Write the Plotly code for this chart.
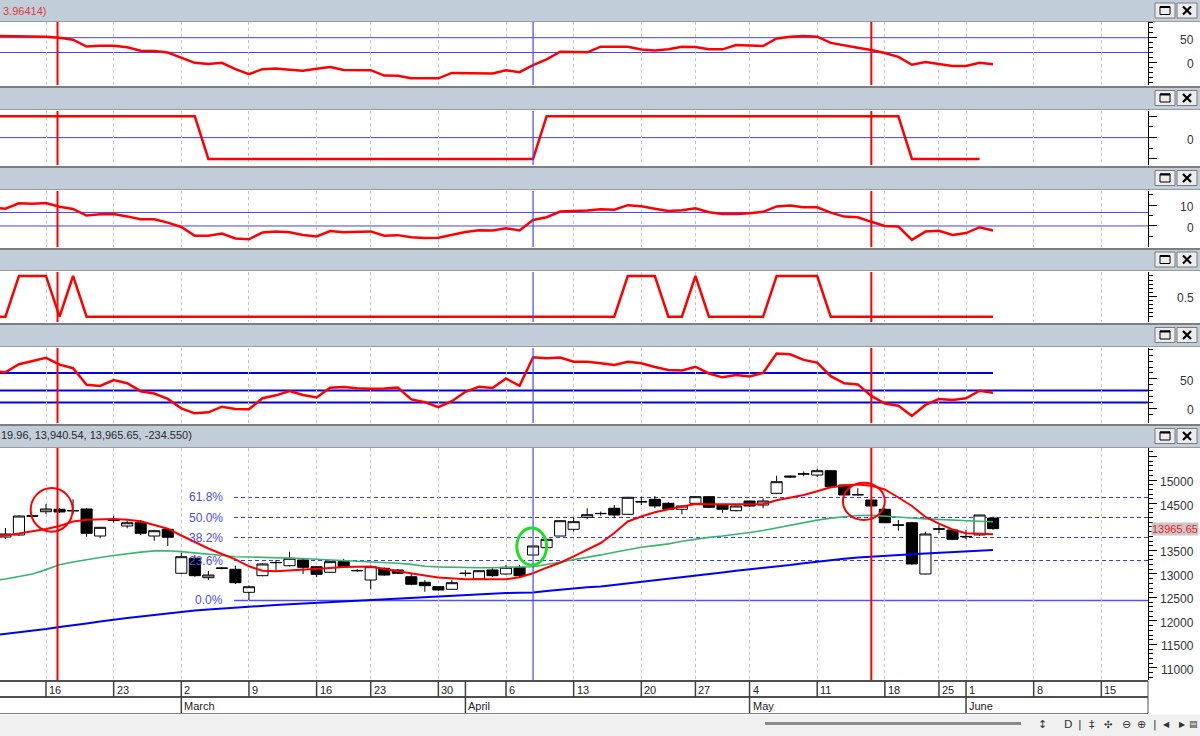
import plotly.graph_objects as go

W, H = 1200, 736
PLOT_RIGHT = 1148
FONT = "Liberation Sans, Arial, sans-serif"

# ---------------- data ----------------
candle_days = list(range(-3, 71))
line_days = list(range(-4, 71))
ind2_days = list(range(-4, 70))

opens = [13787, 13830, 14240, 14325, 14377, 14350, 14383, 13808, 14150, 14021, 14091, 13808, 13951,
         13015, 13334, 12921, 13130, 13100, 12610, 12964, 13240, 13176, 13298, 13155, 13036, 13262,
         13075, 12872, 13121, 13085, 12942, 12823, 12730, 12674, 13020, 12893, 13085, 13000, 13142,
         13404, 13560, 13808, 13951, 14206, 14290, 14398, 14270, 14540, 14589, 14504, 14377, 14504,
         14645, 14468, 14347, 14553, 14468, 14717, 15060, 15128, 15106, 15198, 14894, 14681, 14574,
         14377, 14045, 14091, 13000, 13960, 13936, 13800, 13830, 14190]
highs = [13979, 14250, 14260, 14489, 14400, 14589, 14410, 14000, 14240, 14134, 14149, 13940, 13970,
         13453, 13400, 13064, 13150, 13176, 12760, 13230, 13300, 13474, 13320, 13170, 13290, 13320,
         13100, 13180, 13140, 13100, 13000, 12870, 12740, 12870, 13080, 13080, 13140, 13191, 13191,
         13600, 13750, 14140, 14200, 14398, 14330, 14468, 14640, 14645, 14660, 14530, 14460, 14660,
         14660, 14480, 14460, 14560, 14610, 15092, 15100, 15180, 15240, 15210, 14900, 14823, 14580,
         14400, 14149, 14110, 13900, 14050, 13950, 13940, 14260, 14219.96]
lows = [13745, 13810, 14210, 14276, 14300, 14276, 13794, 13760, 14090, 13972, 13830, 13708, 13596,
        13000, 12940, 12872, 13100, 12787, 12446, 12950, 13060, 13160, 13000, 12930, 13020, 13140,
        13050, 12674, 12960, 13000, 12760, 12623, 12640, 12660, 12950, 12880, 12940, 12990, 12930,
        13390, 13550, 13800, 13900, 14164, 14240, 14185, 14260, 14468, 14400, 14360, 14270, 14490,
        14400, 14305, 14330, 14430, 14400, 14700, 15040, 15080, 15060, 14840, 14670, 14670, 14430,
        14080, 13921, 13200, 12990, 13870, 13720, 13740, 13810, 13940.54]
closes = [13851, 14234, 14230, 14383, 14319, 14345, 13866, 13993, 14140, 14091, 13866, 13921, 13781,
          13368, 12964, 12978, 13120, 12815, 12729, 13213, 13245, 13334, 13142, 12993, 13262, 13155,
          13070, 13155, 12978, 13015, 12781, 12751, 12660, 12815, 13010, 13070, 12964, 13142, 12964,
          13596, 13738, 14134, 14113, 14262, 14285, 14255, 14632, 14535, 14447, 14377, 14447, 14645,
          14419, 14377, 14447, 14447, 14553, 14964, 15080, 15130, 15198, 14857, 14681, 14690, 14447,
          14091, 14040, 13213, 13851, 13955, 13738, 13795, 14255, 13965.65]

ma_fast = [13780, 13813, 13862, 13910, 13957, 14021, 14117, 14153, 14164, 14168, 14155, 14121, 14042,
           13964, 13819, 13672, 13542, 13425, 13312, 13164, 13070, 13059, 13074, 13089, 13110, 13129,
           13151, 13164, 13161, 13106, 13055, 13015, 12968, 12927, 12900, 12887, 12887, 12887, 12887,
           12932, 13015, 13134, 13240, 13374, 13515, 13659, 13872, 14117, 14223, 14313, 14379, 14442,
           14489, 14485, 14481, 14477, 14472, 14483, 14568, 14628, 14681, 14762, 14845, 14883, 14906,
           14879, 14798, 14628, 14447, 14213, 14070, 13947, 13866, 13855, 13844]
ma_mid = [12860, 12893, 12946, 12998, 13093, 13198, 13255, 13308, 13351, 13395, 13434, 13466, 13491,
          13496, 13476, 13451, 13423, 13393, 13368, 13361, 13357, 13351, 13340, 13330, 13315, 13302,
          13287, 13272, 13257, 13244, 13230, 13204, 13166, 13151, 13142, 13134, 13134, 13134, 13138,
          13147, 13155, 13202, 13249, 13308, 13357, 13406, 13464, 13523, 13568, 13604, 13640, 13696,
          13744, 13779, 13808, 13838, 13883, 13925, 13981, 14042, 14102, 14147, 14189, 14221, 14245,
          14251, 14236, 14221, 14191, 14172, 14157, 14147, 14134, 14123, 14113]
ma_slow = [11690, 11723, 11765, 11797, 11829, 11872, 11904, 11946, 11989, 12031, 12063, 12095, 12127,
           12170, 12202, 12223, 12244, 12266, 12287, 12304, 12323, 12340, 12357, 12372, 12387, 12397,
           12414, 12429, 12446, 12463, 12480, 12495, 12510, 12525, 12542, 12557, 12570, 12585, 12595,
           12600, 12606, 12638, 12668, 12693, 12717, 12734, 12766, 12798, 12829, 12859, 12889, 12925,
           12957, 12995, 13032, 13068, 13095, 13127, 13159, 13191, 13230, 13266, 13293, 13323, 13351,
           13372, 13387, 13404, 13421, 13434, 13447, 13468, 13485, 13498, 13510]

ind1 = [53.5, 53.5, 53.5, 53.5, 52, 50, 46, 32, 33.8, 33.8, 30.5, 23.5, 23, 20, 9, -1, -3.5, -1, -14,
        -24, -14, -12.5, -15, -17, -13, -9.5, -15.7, -15.7, -16, -27, -27.5, -32.5, -32.5, -32.5,
        -21.5, -22, -22, -22.5, -16, -20, -5.5, 6, 21.5, 21, 20.3, 31.7, 31.7, 31.5, 26, 23.8, 26.5,
        31.7, 31, 26.4, 26.4, 35, 34, 33, 48.5, 52, 53.5, 52, 39.5, 34, 29.5, 25, 19, 11, -5, 0.5,
        -3.3, -7.5, -7.5, -1, -4]
ind2 = [1, 1, 1, 1, 1, 1, 1, 1, 1, 1, 1, 1, 1, 1, 1, 1,
        -1, -1, -1, -1, -1, -1, -1, -1, -1, -1, -1, -1, -1, -1, -1, -1, -1, -1, -1, -1, -1, -1,
        -1, -1, -1,
        1, 1, 1, 1, 1, 1, 1, 1, 1, 1, 1, 1, 1, 1, 1, 1, 1, 1, 1, 1, 1, 1, 1, 1, 1, 1, 1,
        -1, -1, -1, -1, -1, -1]
ind3 = [8.7, 8.3, 10.9, 10.7, 11, 9.2, 8.2, 5, 5.6, 5.8, 4.6, 3.2, 3.2, 1.6, -0.5, -4.7, -4.7, -3.6,
        -6, -6.4, -3.1, -2.6, -3, -4.3, -5, -2.4, -3, -2.8, -2.6, -4.7, -4.4, -5.4, -5.8, -5.6, -4.2,
        -2.9, -2, -2.2, -1.1, -2.2, 2.9, 4.2, 6.9, 7.1, 7.4, 8, 7.8, 10, 9.5, 8.3, 7.2, 7.6, 8.5, 6.6,
        5.7, 5.8, 6.1, 6.8, 9.4, 9.8, 9, 9, 6.4, 4.5, 4.2, 2, 0, -0.3, -6.7, -2.7, -2.3, -4.3, -3.4,
        -0.6, -2.2]
ind4 = [0, 0, 1, 1, 1, 0, 1,
        0, 0, 0, 0, 0, 0, 0, 0, 0, 0, 0, 0, 0, 0, 0, 0, 0, 0, 0, 0,
        0, 0, 0, 0, 0, 0, 0, 0, 0, 0, 0, 0, 0, 0, 0, 0, 0, 0, 0, 0,
        1, 1, 1, 0, 0, 1, 0, 0, 0, 0, 0, 1, 1, 1, 1,
        0, 0, 0, 0, 0, 0, 0, 0, 0, 0, 0, 0, 0]
ind5 = [63, 61, 74.6, 80.5, 85.5, 74, 68, 40, 38, 48, 42.4, 29, 25, 16, 0, -8.5, -6.8, 2.7, -1.2,
        -1.7, 17, 22, 29.3, 22.5, 18.5, 35, 36.2, 34, 33, 33.5, 35, 15, 10.5, 2, 12, 28, 36.5, 34.5,
        50.5, 38, 86.4, 84.7, 86, 79, 79, 76.2, 73.5, 79, 76.3, 70, 65, 64, 70.5, 59, 52.5, 56.3, 54,
        60, 93, 91.5, 82, 77.5, 54.5, 42.3, 40.5, 21, 8.2, 4.4, -13, 5.7, 15.8, 14, 17, 29.8, 26.4]

ref_lines_1 = [50, 20]
ref_lines_2 = [0]
ref_lines_3 = [6.5, 0]
ref_lines_5 = [30, 10]
ref_line_5_short = 60

week_ticks = [0, 5, 10, 15, 20, 24, 29, 34, 39, 44, 48, 52, 57, 62, 66, 68, 73, 78]
week_labels = ["16", "23", "2", "9", "16", "23", "30", "6", "13", "20", "27", "4", "11", "18",
               "25", "1", "8", "15"]
month_starts = [10, 31, 52, 68]
month_labels = ["March", "April", "May", "June"]

price_tick_labels = [11000, 11500, 12000, 12500, 13000, 13500, 14500, 15000]

fib_levels = [14628, 14202, 13776, 13287, 12436]
fib_labels = ["61.8%", "50.0%", "38.2%", "23.6%", "0.0%"]
fib_start = 13.9

marker_red = [0.85, 61]
marker_blue = [36]

last_price = 13965.65
header1_text = "3.96414)"
header6_text = "19.96, 13,940.54, 13,965.65, -234.550)"

X_RANGE = [-3.4, 81.45]

# ---------------- layout helpers ----------------
def xp(p):
    return p / W

def yp(p):
    return 1 - p / H

panels = [
    dict(top=22, bot=85, rng=[-46.1, 81.9], major=[0, 50], minor=[-40, -30, -20, -10, 10, 20, 30, 40, 60, 70, 80],
         labels=[(50, "50"), (0, "0")]),
    dict(top=111, bot=165, rng=[-1.286, 1.249], major=[-1, 0, 1], minor=[-0.5, 0.5], labels=[(0, "0")]),
    dict(top=191, bot=247, rng=[-10.1, 16.8], major=[0, 10], minor=[-5, 5, 15], labels=[(10, "10"), (0, "0")]),
    dict(top=272, bot=322, rng=[-0.130, 1.098], major=[0.5],
         minor=[0, 0.1, 0.2, 0.3, 0.4, 0.6, 0.7, 0.8, 0.9, 1.0], labels=[(0.5, "0.5")]),
    dict(top=348, bot=423, rng=[-24.9, 102.2], major=[0, 50],
         minor=[-10, 10, 20, 30, 40, 60, 70, 80, 90, 100], labels=[(50, "50"), (0, "0")]),
    dict(top=448, bot=680, rng=[10744, 15681],
         major=[11000, 11500, 12000, 12500, 13000, 13500, 14000, 14500, 15000, 15500],
         minor=[v for v in range(10800, 15700, 100) if v % 500 != 0],
         labels=[(v, str(v)) for v in price_tick_labels]),
]
headers = [(0, 21), (87, 109), (167, 189), (249, 270), (324, 346), (425, 447)]

def axn(k):
    return ("x" if k == 1 else f"x{k}"), ("y" if k == 1 else f"y{k}")

fig = go.Figure()

RED = "#FF0000"
line_kw = dict(mode="lines", hoverinfo="skip", showlegend=False)

fig.add_trace(go.Scatter(x=line_days, y=ind1, line=dict(color=RED, width=2.5), xaxis="x", yaxis="y", **line_kw))
fig.add_trace(go.Scatter(x=ind2_days, y=ind2, line=dict(color=RED, width=2.5), xaxis="x2", yaxis="y2", **line_kw))
fig.add_trace(go.Scatter(x=line_days, y=ind3, line=dict(color=RED, width=2.5), xaxis="x3", yaxis="y3", **line_kw))
fig.add_trace(go.Scatter(x=line_days, y=ind4, line=dict(color=RED, width=2.5), xaxis="x4", yaxis="y4", **line_kw))
fig.add_trace(go.Scatter(x=line_days, y=ind5, line=dict(color=RED, width=2.5), xaxis="x5", yaxis="y5", **line_kw))

fig.add_trace(go.Candlestick(
    x=candle_days, open=opens, high=highs, low=lows, close=closes,
    xaxis="x6", yaxis="y6", whiskerwidth=0, hoverinfo="skip", showlegend=False,
    increasing=dict(fillcolor="white", line=dict(color="black", width=1)),
    decreasing=dict(fillcolor="black", line=dict(color="black", width=1)),
))
fig.add_trace(go.Scatter(x=line_days, y=ma_slow, line=dict(color="#0000FF", width=2), xaxis="x6", yaxis="y6", **line_kw))
fig.add_trace(go.Scatter(x=line_days, y=ma_mid, line=dict(color="#3CB371", width=1.6), xaxis="x6", yaxis="y6", **line_kw))
fig.add_trace(go.Scatter(x=line_days, y=ma_fast, line=dict(color=RED, width=2), xaxis="x6", yaxis="y6", **line_kw))

layout = dict(
    width=W, height=H, margin=dict(l=0, r=0, t=0, b=0, pad=0),
    paper_bgcolor="white", plot_bgcolor="white", showlegend=False,
    hovermode=False, dragmode=False, boxgap=0.18, boxgroupgap=0,
    font=dict(family=FONT, size=12, color="#333333"),
)

shapes = []
annotations = []

for i, p in enumerate(panels):
    k = i + 1
    xa, ya = axn(k)
    xkey = "xaxis" if k == 1 else f"xaxis{k}"
    ykey = "yaxis" if k == 1 else f"yaxis{k}"
    layout[xkey] = dict(
        domain=[0, PLOT_RIGHT / W], range=X_RANGE, anchor=ya, showticklabels=False, ticks="",
        tickmode="array", tickvals=week_ticks, showgrid=True, gridcolor="#C4C4C4", gridwidth=1,
        griddash="3px,3px", zeroline=False, showline=False, fixedrange=True, automargin=False,
        rangeslider=dict(visible=False),
    )
    layout[ykey] = dict(
        domain=[yp(p["bot"]), yp(p["top"])], range=p["rng"], anchor=xa, side="right",
        showline=True, linecolor="black", linewidth=1, ticks="outside", ticklen=8, tickwidth=1,
        tickcolor="black", tickmode="array", tickvals=p["major"], showticklabels=False,
        showgrid=False, zeroline=False, fixedrange=True, automargin=False,
        minor=dict(tickmode="array", tickvals=p["minor"], ticks="outside", ticklen=4,
                   tickcolor="black", showgrid=False),
    )
    for val, txt in p["labels"]:
        annotations.append(dict(x=xp(1196), xref="paper", y=val, yref=ya, text=txt, showarrow=False,
                                xanchor="right", yanchor="middle", yshift=-2,
                                font=dict(family=FONT, size=12, color="#333333")))
    for v in marker_red:
        shapes.append(dict(type="line", xref=xa, yref=f"{ya} domain", x0=v, x1=v, y0=0, y1=1,
                           line=dict(color=RED, width=2), layer="above"))
    for v in marker_blue:
        shapes.append(dict(type="line", xref=xa, yref=f"{ya} domain", x0=v, x1=v, y0=0, y1=1,
                           line=dict(color="#4646FF", width=1.2), layer="above"))

# horizontal reference lines
for v in ref_lines_1:
    shapes.append(dict(type="line", xref="x domain", yref="y", x0=0, x1=1, y0=v, y1=v,
                       line=dict(color="#4040FF", width=1), layer="below"))
for v in ref_lines_2:
    shapes.append(dict(type="line", xref="x2 domain", yref="y2", x0=0, x1=1, y0=v, y1=v,
                       line=dict(color="#4040FF", width=1), layer="below"))
for v in ref_lines_3:
    shapes.append(dict(type="line", xref="x3 domain", yref="y3", x0=0, x1=1, y0=v, y1=v,
                       line=dict(color="#4040FF", width=1), layer="below"))
for v in ref_lines_5:
    shapes.append(dict(type="line", xref="x5 domain", yref="y5", x0=0, x1=1, y0=v, y1=v,
                       line=dict(color="#0000EE", width=2), layer="below"))
shapes.append(dict(type="line", xref="x5", yref="y5", x0=X_RANGE[0], x1=line_days[-1],
                   y0=ref_line_5_short, y1=ref_line_5_short,
                   line=dict(color="#0000EE", width=2), layer="below"))

# fibonacci levels
for lvl, lab in zip(fib_levels, fib_labels):
    solid = lab == "0.0%"
    shapes.append(dict(type="line", xref="x6", yref="y6", x0=fib_start, x1=X_RANGE[1], y0=lvl, y1=lvl,
                       line=dict(color="#5050FF" if solid else "#3535FF", width=1.4 if solid else 1,
                                 dash="solid" if solid else "4px,3px"), layer="below"))
    annotations.append(dict(x=fib_start, xref="x6", y=lvl, yref="y6", text=lab, showarrow=False,
                            xanchor="right", yanchor="middle", xshift=-9,
                            font=dict(family=FONT, size=12, color="#4B4BF0")))

# annotation circles
shapes.append(dict(type="circle", xref="x6", yref="y6", x0=-1.13, x1=1.97, y0=13900, y1=14830,
                   line=dict(color=RED, width=2), layer="above"))
shapes.append(dict(type="circle", xref="x6", yref="y6", x0=58.9, x1=62.0, y0=14149, y1=14943,
                   line=dict(color=RED, width=2), layer="above"))
shapes.append(dict(type="circle", xref="x6", yref="y6", x0=34.8, x1=37.0, y0=13191, y1=13979,
                   line=dict(color="#22DD22", width=3), layer="above"))

# headers
for (t, b) in headers:
    shapes.append(dict(type="rect", xref="paper", yref="paper", x0=0, x1=1, y0=yp(b), y1=yp(t),
                       fillcolor="#C1CDD9", line=dict(width=0), layer="above"))
    if t > 0:
        shapes.append(dict(type="line", xref="paper", yref="paper", x0=0, x1=1, y0=yp(t), y1=yp(t),
                           line=dict(color="#7E7E7E", width=2), layer="above"))
    shapes.append(dict(type="line", xref="paper", yref="paper", x0=0, x1=1, y0=yp(b + 0.5), y1=yp(b + 0.5),
                       line=dict(color="#9A9A9A", width=1), layer="above"))
    c = (t + b) / 2
    for bx0 in (1155, 1177):
        shapes.append(dict(type="rect", xref="paper", yref="paper", x0=xp(bx0), x1=xp(bx0 + 20),
                           y0=yp(c + 7.5), y1=yp(c - 7.5), fillcolor="#ECECEC",
                           line=dict(color="#7A7A7A", width=1), layer="above"))
    shapes.append(dict(type="rect", xref="paper", yref="paper", x0=xp(1160), x1=xp(1170),
                       y0=yp(c + 4), y1=yp(c - 4), line=dict(color="black", width=1), layer="above"))
    shapes.append(dict(type="line", xref="paper", yref="paper", x0=xp(1160), x1=xp(1170),
                       y0=yp(c - 3.5), y1=yp(c - 3.5), line=dict(color="black", width=2), layer="above"))
    shapes.append(dict(type="line", xref="paper", yref="paper", x0=xp(1183), x1=xp(1191),
                       y0=yp(c - 4), y1=yp(c + 4), line=dict(color="black", width=2.2), layer="above"))
    shapes.append(dict(type="line", xref="paper", yref="paper", x0=xp(1183), x1=xp(1191),
                       y0=yp(c + 4), y1=yp(c - 4), line=dict(color="black", width=2.2), layer="above"))

annotations.append(dict(x=xp(1), xref="paper", y=yp(11), yref="paper", text=header1_text, showarrow=False,
                        xanchor="left", yanchor="middle", font=dict(family=FONT, size=11, color="#E23A3A")))
annotations.append(dict(x=xp(-1), xref="paper", y=yp(435), yref="paper", text=header6_text, showarrow=False,
                        xanchor="left", yanchor="middle", font=dict(family=FONT, size=11, color="#2A2A2A")))

# last price tag
annotations.append(dict(x=xp(1151), xref="paper", y=last_price, yref="y6", text=str(last_price),
                        showarrow=False, xanchor="left", yanchor="middle", bgcolor="#C8C8C8", borderpad=0,
                        font=dict(family=FONT, size=11, color="#F02020")))

# bottom date axis
for yy, wdt, col in [(681, 2, "#505050"), (697, 2, "#505050"), (713.5, 1, "#808080")]:
    shapes.append(dict(type="line", xref="paper", yref="paper", x0=0, x1=xp(PLOT_RIGHT), y0=yp(yy), y1=yp(yy),
                       line=dict(color=col, width=wdt), layer="above"))
shapes.append(dict(type="line", xref="paper", yref="paper", x0=xp(PLOT_RIGHT), x1=xp(PLOT_RIGHT),
                   y0=yp(713), y1=yp(681), line=dict(color="#505050", width=1), layer="above"))
for v in sorted(set(week_ticks + month_starts)):
    shapes.append(dict(type="line", xref="x6", yref="paper", x0=v, x1=v, y0=yp(697), y1=yp(681),
                       line=dict(color="#404040", width=1.5), layer="above"))
for v in month_starts:
    shapes.append(dict(type="line", xref="x6", yref="paper", x0=v, x1=v, y0=yp(713), y1=yp(697),
                       line=dict(color="#404040", width=1.5), layer="above"))
for v, lab in zip(week_ticks, week_labels):
    annotations.append(dict(x=v, xref="x6", y=yp(689.5), yref="paper", text=lab, showarrow=False,
                            xanchor="left", yanchor="middle", xshift=1,
                            font=dict(family=FONT, size=11, color="#222222")))
for v, lab in zip(month_starts, month_labels):
    annotations.append(dict(x=v, xref="x6", y=yp(705.5), yref="paper", text=lab, showarrow=False,
                            xanchor="left", yanchor="middle", xshift=1,
                            font=dict(family=FONT, size=11, color="#222222")))

# toolbar
shapes.append(dict(type="rect", xref="paper", yref="paper", x0=0, x1=1, y0=0, y1=yp(714.5),
                   fillcolor="#F0F0F0", line=dict(width=0), layer="above"))
shapes.append(dict(type="line", xref="paper", yref="paper", x0=xp(765), x1=xp(1021), y0=yp(723.5), y1=yp(723.5),
                   line=dict(color="#8A8A8A", width=3), layer="above"))
for xx, sym, sz in [(1042, "↕", 11), (1068, "D", 11), (1080, "|", 11), (1092, "‡", 11), (1108, "✣", 10),
                    (1126, "⊖", 11), (1141, "⊕", 11), (1155, "|", 11), (1166, "◀", 8), (1182, "▶", 8),
                    (1193, "▤", 9)]:
    annotations.append(dict(x=xp(xx), xref="paper", y=yp(724), yref="paper", text=sym, showarrow=False,
                            xanchor="center", yanchor="middle", font=dict(family="DejaVu Sans", size=sz, color="#333333")))

layout["shapes"] = shapes
layout["annotations"] = annotations
fig.update_layout(**layout)

fig.write_html("out.html", config={"displayModeBar": False, "staticPlot": True})
